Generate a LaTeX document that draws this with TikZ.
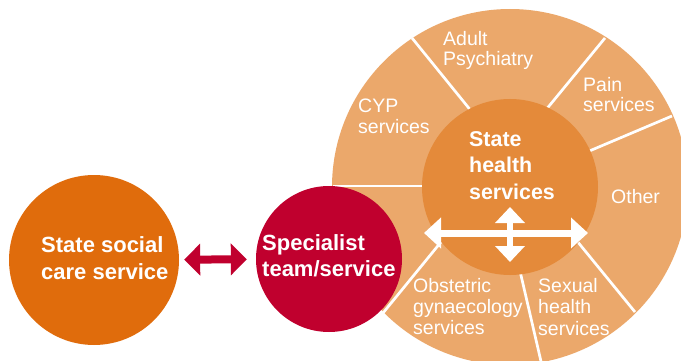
\documentclass[tikz,border=0pt]{standalone}
\usepackage{fontspec}
\setmainfont{Liberation Sans}
\usetikzlibrary{arrows.meta,calc}
\definecolor{ringor}{RGB}{235,168,107}
\definecolor{hubor}{RGB}{228,138,58}
\definecolor{socor}{RGB}{224,108,12}
\definecolor{specred}{RGB}{192,0,46}
\tikzset{
  ball/.style={circle, inner sep=0pt, draw=none},
  seg/.style={white, line width=2.7pt},
  lab/.style={text=white, anchor=base west, align=left, inner sep=0pt,
    font=\fontsize{19.5}{20.5}\selectfont},
  boldlab/.style={text=white, anchor=base west, align=left, inner sep=0pt,
    font=\bfseries\fontsize{22}{26.6}\selectfont},
}
\begin{document}
\begin{tikzpicture}[x=1pt,y=-1pt]
\useasboundingbox (0,0) rectangle (681,361);
\clip (0,0) rectangle (681,361);
% outer ring
\node[ball, fill=ringor, minimum size=356pt] (ring) at (510,187) {};
% dividers
\coordinate (d1o) at (412,38);  \coordinate (d1i) at (472,112);
\coordinate (d2o) at (605,38);  \coordinate (d2i) at (545,111);
\coordinate (d3o) at (672,116); \coordinate (d3i) at (587,152);
\coordinate (d4o) at (333,186); \coordinate (d4i) at (428,186);
\coordinate (d5o) at (383,313); \coordinate (d5i) at (441,242);
\coordinate (d6o) at (543,370); \coordinate (d6i) at (520,271);
\coordinate (d7o) at (635,312); \coordinate (d7i) at (577,241);
\foreach \k in {1,...,7} {\draw[seg] (d\k o) -- (d\k i);}
% hub
\node[ball, fill=hubor, minimum size=176pt] (hub) at (510,187) {};
% left circles
\node[ball, fill=specred, minimum size=146pt] (spec) at (329,259) {};
\node[ball, fill=socor, minimum size=170pt] (social) at (94,260) {};
% arrows
\draw[specred, line width=8pt,
  {Triangle[length=16pt,width=31pt]}-{Triangle[length=16pt,width=31pt]},
  shorten <=5pt, shorten >=9pt] (social) -- (spec);
\coordinate (hl) at (424,233); \coordinate (hr) at (588,233);
\coordinate (vt) at (510,207); \coordinate (vb) at (510,262);
\draw[white, line width=7pt,
  {Triangle[length=17pt,width=30pt]}-{Triangle[length=17pt,width=30pt]}] (hl) -- (hr);
\draw[white, line width=6pt,
  {Triangle[length=16pt,width=29pt]}-{Triangle[length=16pt,width=29pt]}] (vt) -- (vb);
% labels (anchored at the baseline of the last line)
\node[lab] (tadult) at (443,66) {Adult\\Psychiatry};
\node[lab] (tcyp) at (358,133) {CYP\\services};
\node[lab] (tpain) at (583,111.5) {Pain\\services};
\node[lab] (tother) at (611,203) {Other};
\node[lab, font=\fontsize{19.5}{21}\selectfont] (tobs) at (413,334.5) {Obstetric\\gynaecology\\services};
\node[lab, font=\fontsize{19.5}{21.5}\selectfont] (tsex) at (538,335) {Sexual\\health\\services};
\node[boldlab, font=\bfseries\fontsize{21.4}{26.6}\selectfont] (thub) at (469,199.3) {State\\health\\services};
\node[boldlab] (tsoc) at (41,279.3) {State social\\care service};
\node[boldlab] (tspec) at (262,276.7) {Specialist\\team/service};
\end{tikzpicture}
\end{document}
